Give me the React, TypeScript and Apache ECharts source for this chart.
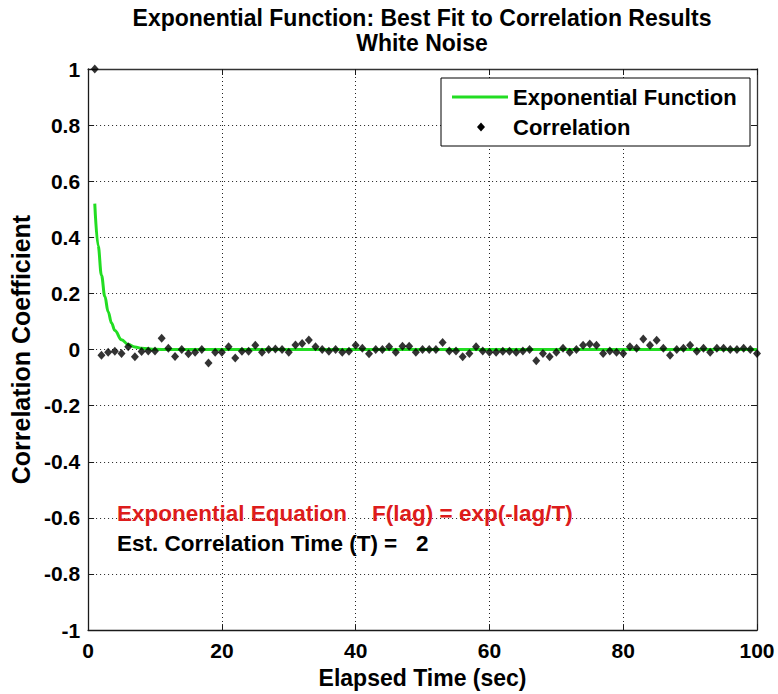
import React, { useEffect, useRef } from "react";
import * as echarts from "echarts";

const titleLines = ["Exponential Function: Best Fit to Correlation Results", "White Noise"];
const xAxisName = "Elapsed Time (sec)";
const yAxisName = "Correlation Coefficient";
const legendNames = ["Exponential Function", "Correlation"];
const equationText = "Exponential Equation    F(lag) = exp(-lag/T)";
const timeText = "Est. Correlation Time (T) =   2";

// Correlation coefficient at lag 1..100
const corrValues = [
  1, -0.02, -0.01, -0.006, -0.014, 0.01, -0.026, -0.007, -0.005, -0.005,
  0.04, 0.005, -0.025, 0, -0.015, -0.01, 0, -0.048, -0.01, -0.01,
  0.01, -0.03, -0.006, -0.006, 0.015, -0.01, 0, 0.002, 0, -0.01,
  0.016, 0.022, 0.034, 0.01, 0, -0.006, 0, -0.01, -0.006, 0.015,
  0.005, -0.015, 0, 0, 0.01, -0.01, 0.012, 0.012, -0.01, 0,
  0, 0, 0.025, -0.005, -0.005, -0.026, -0.014, 0.01, -0.005, -0.01,
  -0.01, -0.006, -0.006, -0.01, -0.005, 0, -0.04, -0.014, -0.026, -0.01,
  0.005, -0.01, 0, 0.015, 0.02, 0.015, -0.014, -0.005, -0.01, -0.014,
  0.01, 0.005, 0.038, 0.015, 0.033, 0.005, -0.02, 0, 0.005, 0.015,
  -0.006, 0.005, -0.01, 0.005, 0.005, 0, 0, 0.005, 0, -0.014,
];

// Fitted exponential curve
const fitLags = [1, 1.5, 2, 2.5, 3, 3.5, 4, 5, 6, 7, 8, 10, 12, 100];
const fitValues = [0.52, 0.37, 0.265, 0.19, 0.135, 0.095, 0.068, 0.035, 0.018, 0.009, 0.005, 0.001, 0, 0];

const FONT = "'Liberation Sans', Arial, Helvetica, sans-serif";
const AXIS_COLOR = "#1a1a1a";
const GREEN = "#22dd22";

export default function App() {
  const ref = useRef<HTMLDivElement>(null);
  useEffect(() => {
    if (!ref.current) return;
    const chart = echarts.init(ref.current, null, { renderer: "svg" });
    const tickLabel = { color: "#000", fontFamily: FONT, fontWeight: "bold" as const, fontSize: 21 };
    const gridLine = { show: true, lineStyle: { color: "#222", width: 1, type: [1, 3] as any } };
    const xBase = { type: "value" as const, min: 0, max: 100, interval: 20 };
    const yBase = { type: "value" as const, min: -1, max: 1, interval: 0.2 };
    const option: any = {
      animation: false,
      backgroundColor: "#fff",
      grid: { left: 87, right: 21, top: 69, bottom: 57, containLabel: false },
      xAxis: [
        {
          ...xBase,
          position: "bottom",
          name: xAxisName,
          nameLocation: "middle",
          nameGap: 32,
          nameTextStyle: { ...tickLabel, fontSize: 23 },
          axisLine: { show: true, onZero: false, lineStyle: { color: AXIS_COLOR, width: 1.3 } },
          axisTick: { show: true, inside: true, length: 6, lineStyle: { color: AXIS_COLOR } },
          axisLabel: { ...tickLabel, margin: 10 },
          splitLine: gridLine,
        },
        {
          ...xBase,
          position: "top",
          axisLine: { show: true, onZero: false, lineStyle: { color: "#333", width: 1.3 } },
          axisTick: { show: true, inside: true, length: 6, lineStyle: { color: AXIS_COLOR } },
          axisLabel: { show: false },
          splitLine: { show: false },
        },
      ],
      yAxis: [
        {
          ...yBase,
          position: "left",
          name: yAxisName,
          nameLocation: "middle",
          nameGap: 48,
          nameTextStyle: { ...tickLabel, fontSize: 25 },
          axisLine: { show: true, onZero: false, lineStyle: { color: AXIS_COLOR, width: 1.3 } },
          axisTick: { show: true, inside: true, length: 6, lineStyle: { color: AXIS_COLOR } },
          axisLabel: { ...tickLabel, margin: 8 },
          splitLine: gridLine,
        },
        {
          ...yBase,
          position: "right",
          axisLine: { show: true, onZero: false, lineStyle: { color: "#333", width: 1.3 } },
          axisTick: { show: true, inside: true, length: 6, lineStyle: { color: AXIS_COLOR } },
          axisLabel: { show: false },
          splitLine: { show: false },
        },
      ],
      legend: {
        orient: "vertical",
        left: 447,
        top: 81,
        itemWidth: 56,
        itemHeight: 3,
        itemGap: 8,
        textStyle: { color: "#000", fontFamily: FONT, fontWeight: "bold", fontSize: 22, lineHeight: 22 },
        data: [
          { name: legendNames[0], icon: "rect", itemStyle: { color: GREEN } },
          { name: legendNames[1], icon: "none" },
        ],
        z: 10,
      },
      series: [
        {
          name: legendNames[0],
          type: "line",
          data: fitLags.map((l, i) => [l, fitValues[i]]),
          symbol: "none",
          smooth: 0.4,
          smoothMonotone: "x",
          lineStyle: { color: GREEN, width: 3 },
          itemStyle: { color: GREEN },
          z: 2,
        },
        {
          name: legendNames[1],
          type: "scatter",
          data: corrValues.map((v, i) => [i + 1, v]),
          symbol: "diamond",
          symbolSize: [8, 9],
          itemStyle: { color: "#000" },
          z: 3,
        },
      ],
      graphic: [
        {
          type: "text",
          x: 422,
          y: 18,
          style: { text: titleLines[0], fill: "#000", font: `bold 23px ${FONT}`, textAlign: "center", textVerticalAlign: "middle" },
        },
        {
          type: "text",
          x: 422,
          y: 43,
          style: { text: titleLines[1], fill: "#000", font: `bold 23px ${FONT}`, textAlign: "center", textVerticalAlign: "middle" },
        },
        {
          type: "rect",
          z: 8,
          shape: { x: 441, y: 78, width: 309, height: 68 },
          style: { fill: "#fff", stroke: "#000", lineWidth: 1 },
        },
        {
          type: "polygon",
          z: 11,
          shape: { points: [[481, 122.5], [485, 127], [481, 131.5], [477, 127]] },
          style: { fill: "#000" },
        },
        {
          type: "text",
          x: 117,
          y: 513,
          z: 9,
          style: { text: equationText, fill: "#dd1c1c", font: `bold 22.5px ${FONT}`, textVerticalAlign: "middle" },
        },
        {
          type: "text",
          x: 117,
          y: 543,
          z: 9,
          style: { text: timeText, fill: "#000", font: `bold 22.5px ${FONT}`, textVerticalAlign: "middle" },
        },
      ],
    };
    chart.setOption(option);
    return () => chart.dispose();
  }, []);
  return (
    <div
      ref={ref}
      style={{ position: "fixed", left: 0, top: 0, width: 778, height: 694, background: "#fff" }}
    />
  );
}
